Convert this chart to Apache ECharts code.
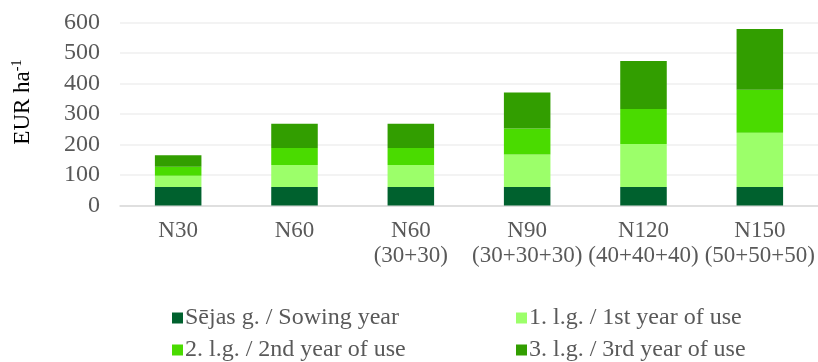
<!DOCTYPE html>
<html>
<head>
<meta charset="utf-8">
<script src="https://cdn.jsdelivr.net/npm/echarts@6/dist/echarts.min.js"></script>
<style>
  html, body { margin: 0; padding: 0; background: #fff; }
  #chart { width: 818px; height: 362px; }
</style>
</head>
<body>
<div id="chart"></div>
<script>
// Fertiliser treatments (N rate, split applications)
const categories = ['N30', 'N60', 'N60\n(30+30)', 'N90\n(30+30+30)', 'N120\n(40+40+40)', 'N150\n(50+50+50)'];

// Costs per year of the sward, EUR per hectare
const sowingYear = [61, 61, 61, 61, 61, 61];
const firstYearOfUse = [37, 72, 72, 106, 141, 178];
const secondYearOfUse = [29, 56, 56, 86, 115, 141];
const thirdYearOfUse = [38, 79, 79, 118, 157, 199];

const seriesNames = [
  'Sējas g. / Sowing year',
  '1. l.g. / 1st year of use',
  '2. l.g. / 2nd year of use',
  '3. l.g. / 3rd year of use'
];
const seriesColors = ['#00612E', '#9CFF6A', '#4ADB00', '#329E00'];
const seriesValues = [sowingYear, firstYearOfUse, secondYearOfUse, thirdYearOfUse];

const yTicks = { min: 0, max: 600, interval: 100 };

const FONT = '"Liberation Serif", "Times New Roman", serif';
const TEXT_COLOR = '#595959';

const chart = echarts.init(document.getElementById('chart'), null, { renderer: 'canvas' });

// Two stacked legend columns, two entries each
const legendCommon = {
  orient: 'vertical',
  top: 306,
  height: 60,
  padding: 0,
  itemWidth: 11,
  itemHeight: 11,
  itemGap: 8,
  icon: 'rect',
  textStyle: { fontFamily: FONT, fontSize: 24, color: TEXT_COLOR, lineHeight: 23, padding: [0, 0, 0, -3] }
};

chart.setOption({
  animation: false,
  textStyle: { fontFamily: FONT },
  grid: { left: 120, right: 0, top: 22.7, bottom: 156.5, containLabel: false },
  legend: [
    Object.assign({ left: 172, data: [seriesNames[0], seriesNames[2]] }, legendCommon),
    Object.assign({ left: 516, data: [seriesNames[1], seriesNames[3]] }, legendCommon)
  ],
  xAxis: {
    type: 'category',
    data: categories,
    axisLine: { lineStyle: { color: '#d9d9d9', width: 1.5 } },
    axisTick: { show: false },
    axisLabel: {
      fontFamily: FONT, fontSize: 23, color: TEXT_COLOR,
      lineHeight: 25, margin: 13, interval: 0
    }
  },
  yAxis: {
    type: 'value',
    min: yTicks.min,
    max: yTicks.max,
    interval: yTicks.interval,
    name: '{base|EUR ha}{sup|-1}',
    nameLocation: 'middle',
    nameGap: 84,
    nameRotate: 90,
    nameTextStyle: {
      fontWeight: 'normal',
      padding: [0, 0, 0, 24],
      rich: {
        base: { fontFamily: FONT, fontSize: 23, fontWeight: 'normal', color: '#000' },
        sup: { fontFamily: FONT, fontSize: 14, fontWeight: 'normal', color: '#000', verticalAlign: 'bottom', padding: [0, 0, 12, 0] }
      }
    },
    axisLine: { show: false },
    axisTick: { show: false },
    splitLine: { lineStyle: { color: '#efefef', width: 1.5 } },
    axisLabel: { fontFamily: FONT, fontSize: 24, color: TEXT_COLOR, margin: 20 }
  },
  series: seriesNames.map((name, i) => ({
    name,
    type: 'bar',
    stack: 'cost',
    barWidth: '40%',
    data: seriesValues[i],
    itemStyle: { color: seriesColors[i] }
  }))
});
</script>
</body>
</html>
